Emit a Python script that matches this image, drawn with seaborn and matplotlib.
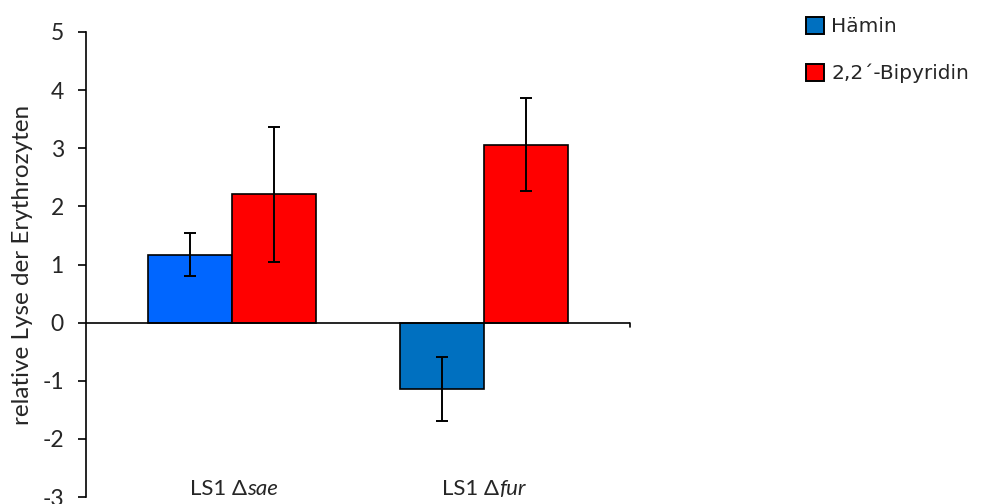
import matplotlib
matplotlib.use("Agg")
import matplotlib.pyplot as plt
from matplotlib.patches import Patch
import seaborn as sns
import pandas as pd

# Data
strains = ["LS1 Δsae", "LS1 Δfur"]
series = ["Hämin", "2,2´-Bipyridin"]
haemin_vals = [1.17, -1.14]
haemin_err = [0.37, 0.55]
bipy_vals = [2.21, 3.06]
bipy_err = [1.16, 0.80]
y_ticks = [-3, -2, -1, 0, 1, 2, 3, 4, 5]

df = pd.DataFrame({
    "strain": strains * 2,
    "treatment": [series[0]] * 2 + [series[1]] * 2,
    "value": haemin_vals + bipy_vals,
})

sns.set_theme(style="white")
plt.rcParams["font.family"] = ["Lato", "DejaVu Sans"]

fig = plt.figure(figsize=(9.83, 5.04), dpi=100)
ax = fig.add_axes([86 / 983, 1 - 497 / 504, 544 / 983, 465 / 504])

sns.barplot(data=df, x="strain", y="value", hue="treatment", hue_order=series,
            order=strains, width=0.667, errorbar=None, ax=ax, legend=False,
            edgecolor="black", linewidth=1.2, saturation=1,
            palette={series[0]: "#0070C0", series[1]: "#FF0000"})

# bar colours per strain
ax.containers[0][0].set_facecolor("#0066FF")
ax.containers[0][1].set_facecolor("#0070C0")

for cont, err in zip(ax.containers, [haemin_err, bipy_err]):
    xs = [b.get_x() + b.get_width() / 2 for b in cont]
    ys = [b.get_y() + b.get_height() for b in cont]
    ax.errorbar(xs, ys, yerr=err, fmt="none", ecolor="black", elinewidth=1.4,
                capsize=4.5, capthick=1.4, zorder=5)

ax.set_ylim(-3, 5)
ax.set_xlim(-0.579, 1.579)
ax.set_yticks(y_ticks)
ax.set_yticklabels([str(t) for t in y_ticks], fontsize=16.5)
ax.tick_params(axis="y", direction="out", length=6, width=1.2, color="black",
               left=True, pad=10)
ax.set_xticks([])
ax.set_xlabel("")
ax.set_ylabel("relative Lyse der Erythrozyten", fontsize=17.5)
ax.yaxis.set_label_coords(-53 / 544, 0.5)

for side in ["top", "right", "bottom"]:
    ax.spines[side].set_visible(False)
ax.spines["left"].set_color("black")
ax.spines["left"].set_linewidth(1.2)

# zero line with end tick
ax.axhline(0, color="black", lw=1.2, zorder=4)
ax.plot([1.579, 1.579], [0, -0.08], color="black", lw=1.2, clip_on=False)

# category labels placed low
for x, (plain, ital) in enumerate([("LS1 Δ", "sae"), ("LS1 Δ", "fur")]):
    ax.text(x + 0.06, -2.87, plain, fontsize=16, ha="right", va="center")
    ax.text(x + 0.06, -2.87, ital, fontsize=16, ha="left", va="center", style="italic")

handles = [Patch(facecolor="#0070C0", edgecolor="black", lw=1.4),
           Patch(facecolor="#FF0000", edgecolor="black", lw=1.4)]
fig.legend(handles, series, loc="upper left", bbox_to_anchor=(794 / 983, 1 - 5 / 504),
           frameon=False, handlelength=0.9, handleheight=0.9, handletextpad=0.35,
           labelspacing=1.37, borderpad=0.1,
           prop={"family": "DejaVu Sans", "size": 14.5})

fig.savefig("out.png", dpi=100)
